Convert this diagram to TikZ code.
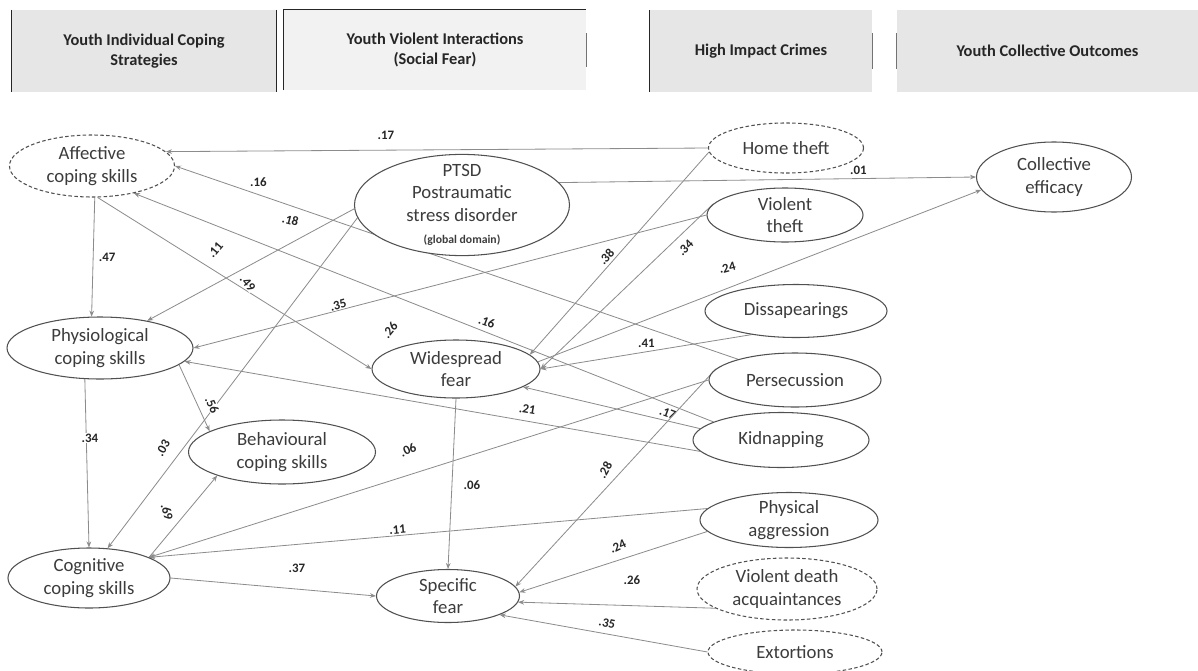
\documentclass[tikz,border=0pt]{standalone}
\usepackage{fontspec}
\setmainfont{Carlito}
\usetikzlibrary{arrows.meta,shapes.geometric,backgrounds}
\definecolor{edgegray}{RGB}{140,140,140}
\definecolor{rimgray}{RGB}{80,80,80}
\definecolor{txtgray}{RGB}{60,60,60}
\definecolor{headfill}{RGB}{230,230,230}
\definecolor{headfilltwo}{RGB}{242,242,242}

\begin{document}
\begin{tikzpicture}[x=0.03cm, y=-0.03cm,
  var/.style={ellipse, draw=rimgray, line width=0.9pt, fill=white, inner xsep=0pt,
              inner ysep=-2pt, align=center, text=txtgray,
              font=\fontsize{16}{19}\selectfont},
  latent/.style={var, densely dashed},
  head/.style={fill=headfill, inner sep=0pt, align=center, text=black!85,
               font=\fontsize{14}{17}\selectfont\bfseries},
  rim/.style={line width=1.2pt, draw=black!85},
  tick/.style={line width=1pt, draw=black!55, shorten <=0.7cm, shorten >=0.7cm},
  arr/.style={-{Stealth[length=1.8mm,width=1.4mm]}, draw=edgegray, line width=0.7pt},
  lb/.style={font=\fontsize{11}{12}\selectfont\bfseries, text=black!85,
             inner sep=0.5pt, fill=white}
]
\useasboundingbox (0,0) rectangle (1198,671);

% column headers
\node[head, minimum width=7.92cm, minimum height=2.46cm] (hcope) at (144,51)
      {Youth Individual Coping\\Strategies};
\node[head, fill=headfilltwo, minimum width=9.06cm, minimum height=2.4cm] (hfear) at (435,50)
      {Youth Violent Interactions\\(Social Fear)};
\node[head, minimum width=6.66cm, minimum height=2.46cm] (hcrime) at (761,51)
      {High Impact Crimes};
\node[head, minimum width=9.03cm, minimum height=2.46cm] (hout) at (1047.5,51)
      {Youth Collective Outcomes};
\draw[rim] (hcope.north west) -- (hcope.south west) (hcope.north east) -- (hcope.south east);
\draw[rim] (hfear.south west) -- (hfear.north west) -- (hfear.north east);
\draw[tick] (hfear.north east) -- (hfear.south east);
\draw[rim] (hcrime.north west) -- (hcrime.south west);
\draw[tick] (hcrime.north east) -- (hcrime.south east);
\draw[tick] (hout.north west) -- (hout.south west);

% coping strategies
\node[latent, minimum width=4.95cm, minimum height=1.86cm] (aff)  at (92,166)  {Affective\\coping skills};
\node[var, minimum width=5.58cm, minimum height=1.86cm]    (phys) at (100,348) {Physiological\\coping skills};
\node[var, minimum width=5.61cm, minimum height=1.92cm]    (beh)  at (282,452) {Behavioural\\coping skills};
\node[var, minimum width=4.86cm, minimum height=1.80cm]    (cog)  at (89,578)  {Cognitive\\coping skills};

% social fear
\node[var, inner ysep=-4pt, minimum width=6.45cm, minimum height=2.76cm] (ptsd) at (462,205)
      {PTSD\\Postraumatic\\stress disorder\\{\fontsize{10}{12}\selectfont\bfseries (global domain)}};
\node[var, minimum width=5.04cm, minimum height=1.74cm] (wide) at (456,369) {Widespread\\fear};
\node[var, minimum width=4.29cm, minimum height=1.59cm] (spec) at (448,596) {Specific\\fear};

% crimes
\node[latent, minimum width=4.65cm, minimum height=1.50cm] (home)   at (786,148) {Home theft};
\node[var, minimum width=4.68cm, minimum height=1.62cm]    (vtheft) at (785,215) {Violent\\theft};
\node[var, minimum width=5.46cm, minimum height=1.59cm]    (diss)   at (796,311) {Dissapearings};
\node[var, minimum width=5.16cm, minimum height=1.62cm]    (pers)   at (795,380) {Persecussion};
\node[var, minimum width=5.28cm, minimum height=1.65cm]    (kid)    at (781,440) {Kidnapping};
\node[var, minimum width=5.34cm, minimum height=1.65cm]    (phag)   at (789,520) {Physical\\aggression};
\node[latent, minimum width=5.40cm, minimum height=1.86cm] (vda)    at (787,589) {Violent death\\acquaintances};
\node[latent, minimum width=5.22cm, minimum height=1.32cm] (ext)    at (795,652) {Extortions};

% outcome
\node[var, minimum width=4.65cm, minimum height=2.10cm] (coll) at (1054,177) {Collective\\efficacy};

\begin{scope}[on background layer]
\draw[arr] (home.west) -- node[lb, pos=0.594, yshift=0.45cm] {.17} (aff.11);
\draw[arr] (ptsd.13) -- node[lb, pos=0.718, yshift=0.26cm] {.01} (coll.west);
\draw[arr] (pers.160) -- node[lb, pos=0.852, yshift=0.38cm] {.16} (aff.east);
\draw[arr] (kid.165) -- node[lb, pos=0.730, yshift=1.04cm, rotate=-15] {.18}
                        node[lb, pos=0.391, yshift=0.32cm, rotate=-20] {.16} (aff.-33);
\draw[arr] (ptsd.182) -- node[lb, pos=0.671, yshift=1.02cm, rotate=50] {.11} (phys.30);
\draw[arr] (aff.-80) -- node[lb, pos=0.548, yshift=0.25cm, rotate=-50] {.49} (wide.west);
\draw[arr] (aff.-85) -- node[lb, pos=0.5, xshift=0.42cm] {.47} (phys.105);
\draw[arr] (vtheft.west) -- node[lb, pos=0.718, yshift=0.17cm, rotate=15] {.35}
                            node[lb, pos=0.617, yshift=-0.99cm, rotate=50] {.26} (phys.east);
\draw[arr] (home.183) -- node[lb, pos=0.517, xshift=-0.3cm, rotate=48] {.38} (wide.11);
\draw[arr] (vtheft.171) -- node[lb, pos=0.268, xshift=0.55cm, rotate=45] {.34} (wide.east);
\draw[arr] (wide.5) -- node[lb, pos=0.427, yshift=0.62cm, rotate=15] {.24} (coll.190);
\draw[arr] (diss.208) -- node[lb, pos=0.498, yshift=0.26cm] {.41} (wide.east);
\draw[arr] (kid.172) -- node[lb, pos=0.183, yshift=0.24cm, rotate=-20] {.17} (wide.-15);
\draw[arr] (kid.188) -- node[lb, pos=0.335, yshift=0.35cm, rotate=-10] {.21} (phys.-9);
\draw[arr] (phys.244) -- node[lb, pos=0.35, xshift=0.11cm] {.34} (cog.north);
\draw[arr] (ptsd.187) -- node[lb, pos=0.696, xshift=-0.62cm, rotate=60] {.03} (cog.58);
\draw[arr] (phys.-12) -- node[lb, pos=0.6, xshift=0.44cm, rotate=-65] {.56} (beh.164);
\draw[arr] (cog.19) -- node[lb, pos=0.553, xshift=-0.59cm, rotate=-75] {.69} (beh.200);
\draw[arr] (pers.west) -- node[lb, pos=0.537, yshift=0.76cm, rotate=25] {.06} (cog.19);
\draw[arr] (phag.172) -- node[lb, pos=0.555, yshift=0.17cm, rotate=5] {.11} (cog.19);
\draw[arr] (cog.east) -- node[lb, pos=0.615, yshift=0.63cm] {.37} (spec.west);
\draw[arr] (wide.south) -- node[lb, pos=0.507, xshift=0.6cm] {.06} (spec.north);
\draw[arr] (pers.172) -- node[lb, pos=0.464, xshift=-0.54cm, rotate=60] {.28} (spec.8);
\draw[arr] (phag.188) -- node[lb, pos=0.476, yshift=0.42cm, rotate=25] {.24} (spec.3);
\draw[arr] (vda.195) -- node[lb, pos=0.423, yshift=0.77cm] {.26} (spec.-5);
\draw[arr] (ext.west) -- node[lb, pos=0.483, yshift=0.33cm, rotate=-12] {.35} (spec.-20);
\end{scope}
\end{tikzpicture}
\end{document}
